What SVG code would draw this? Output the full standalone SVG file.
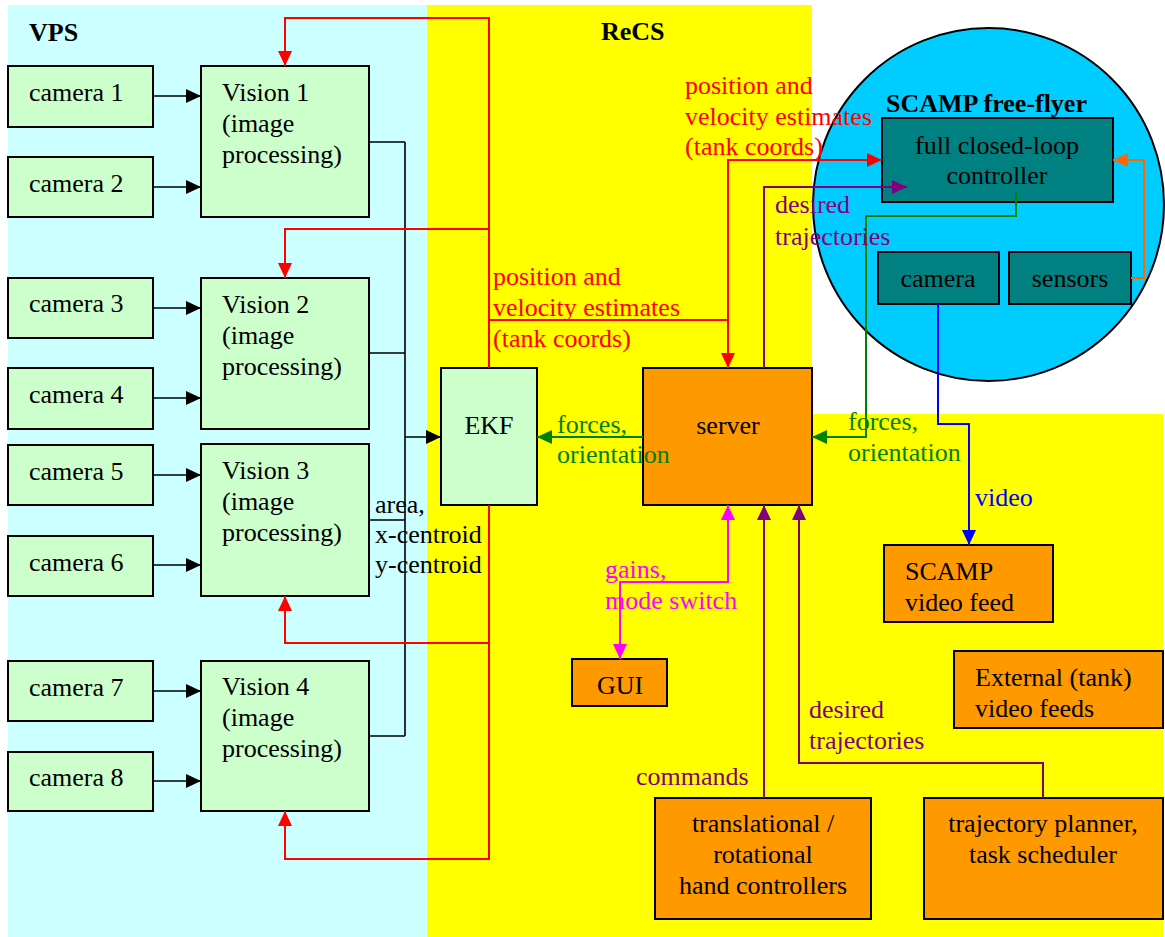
<svg xmlns="http://www.w3.org/2000/svg" width="1165" height="937" viewBox="0 0 1165 937">
<style>
text{font-family:"Liberation Serif","Times New Roman",serif;font-size:26px;fill:#000}
.b{font-weight:bold}
.m{text-anchor:middle}
.g{fill:#CCFFCC;stroke:#000;stroke-width:2}
.o{fill:#FF9900;stroke:#000;stroke-width:2}
.t{fill:#008080;stroke:#000;stroke-width:2}
.k{fill:none;stroke:#000;stroke-width:1.6}
.r{fill:none;stroke:#FF0000;stroke-width:2}
.gr{fill:none;stroke:#008000;stroke-width:2}
.p{fill:none;stroke:#800080;stroke-width:2}
.mg{fill:none;stroke:#FF00FF;stroke-width:2}
.bl{fill:none;stroke:#0000FF;stroke-width:2}
.or{fill:none;stroke:#FF6600;stroke-width:2}
.tr{fill:#FF0000}.tg{fill:#008000}.tp{fill:#800080}.tm{fill:#FF00FF}.tb{fill:#0000FF}
</style>
<defs>
<marker id="ak" markerUnits="userSpaceOnUse" markerWidth="15" markerHeight="14" refX="15" refY="7" orient="auto"><path d="M0,0L15,7L0,14z" fill="#000"/></marker>
<marker id="ar" markerUnits="userSpaceOnUse" markerWidth="15" markerHeight="14" refX="15" refY="7" orient="auto"><path d="M0,0L15,7L0,14z" fill="#FF0000"/></marker>
<marker id="ag" markerUnits="userSpaceOnUse" markerWidth="15" markerHeight="14" refX="15" refY="7" orient="auto"><path d="M0,0L15,7L0,14z" fill="#008000"/></marker>
<marker id="ap" markerUnits="userSpaceOnUse" markerWidth="15" markerHeight="14" refX="15" refY="7" orient="auto"><path d="M0,0L15,7L0,14z" fill="#800080"/></marker>
<marker id="am" markerUnits="userSpaceOnUse" markerWidth="15" markerHeight="14" refX="15" refY="7" orient="auto-start-reverse"><path d="M0,0L15,7L0,14z" fill="#FF00FF"/></marker>
<marker id="ab" markerUnits="userSpaceOnUse" markerWidth="15" markerHeight="14" refX="15" refY="7" orient="auto"><path d="M0,0L15,7L0,14z" fill="#0000FF"/></marker>
<marker id="ao" markerUnits="userSpaceOnUse" markerWidth="15" markerHeight="14" refX="15" refY="7" orient="auto"><path d="M0,0L15,7L0,14z" fill="#FF6600"/></marker>
</defs>
<rect width="1165" height="937" fill="#fff"/>
<g id="regions">
<rect x="8" y="5" width="419" height="932" fill="#CCFFFF"/>
<rect x="427" y="5" width="385" height="410" fill="#FFFF00"/>
<rect x="427" y="414" width="736" height="523" fill="#FFFF00"/>
<text class="b" x="29" y="41">VPS</text>
<text class="b" x="601" y="40">ReCS</text>
</g>
<g id="freeflyer">
<ellipse cx="988.5" cy="204.5" rx="175.5" ry="176.5" fill="#00CCFF" stroke="#000" stroke-width="2"/>
<text class="b" x="886" y="112">SCAMP free-flyer</text>
</g>
<g id="camera1"><rect class="g" x="8" y="66" width="145" height="61"/><text x="29" y="101">camera 1</text></g>
<g id="camera2"><rect class="g" x="8" y="157" width="145" height="60"/><text x="29" y="192">camera 2</text></g>
<g id="camera3"><rect class="g" x="8" y="278" width="145" height="60"/><text x="29" y="312">camera 3</text></g>
<g id="camera4"><rect class="g" x="8" y="368" width="145" height="61"/><text x="29" y="403">camera 4</text></g>
<g id="camera5"><rect class="g" x="8" y="445" width="145" height="60"/><text x="29" y="480">camera 5</text></g>
<g id="camera6"><rect class="g" x="8" y="536" width="145" height="60"/><text x="29" y="571">camera 6</text></g>
<g id="camera7"><rect class="g" x="8" y="661" width="145" height="60"/><text x="29" y="696">camera 7</text></g>
<g id="camera8"><rect class="g" x="8" y="752" width="145" height="59"/><text x="29" y="786">camera 8</text></g>
<g id="vision1"><rect class="g" x="201" y="66" width="168" height="151"/><text x="222" y="101">Vision 1</text><text x="222" y="132">(image</text><text x="222" y="163">processing)</text></g>
<g id="vision2"><rect class="g" x="201" y="278" width="168" height="151"/><text x="222" y="313">Vision 2</text><text x="222" y="344">(image</text><text x="222" y="375">processing)</text></g>
<g id="vision3"><rect class="g" x="201" y="444" width="168" height="152"/><text x="222" y="479">Vision 3</text><text x="222" y="510">(image</text><text x="222" y="541">processing)</text></g>
<g id="vision4"><rect class="g" x="201" y="661" width="168" height="150"/><text x="222" y="695">Vision 4</text><text x="222" y="726">(image</text><text x="222" y="757">processing)</text></g>
<g id="ekf"><rect class="g" x="441" y="368" width="96" height="137"/><text class="m" x="489" y="434">EKF</text></g>
<g id="server"><rect class="o" x="643" y="368" width="169" height="137"/><text class="m" x="728" y="434">server</text></g>
<g id="controller"><rect class="t" x="882" y="118" width="231" height="84"/><text class="m" x="997" y="154">full closed-loop</text><text class="m" x="997" y="184">controller</text></g>
<g id="camera"><rect class="t" x="878" y="252" width="121" height="52"/><text class="m" x="938" y="287">camera</text></g>
<g id="sensors"><rect class="t" x="1009" y="252" width="122" height="52"/><text class="m" x="1070" y="287">sensors</text></g>
<g id="gui"><rect class="o" x="572" y="659" width="95" height="47"/><text class="m" x="620" y="694">GUI</text></g>
<g id="scampfeed"><rect class="o" x="884" y="545" width="169" height="77"/><text x="905" y="580">SCAMP</text><text x="905" y="611">video feed</text></g>
<g id="extfeed"><rect class="o" x="954" y="651" width="209" height="77"/><text x="975" y="686">External (tank)</text><text x="975" y="717">video feeds</text></g>
<g id="hand"><rect class="o" x="655" y="798" width="216" height="121"/><text class="m" x="763" y="832">translational /</text><text class="m" x="763" y="863">rotational</text><text class="m" x="763" y="894">hand controllers</text></g>
<g id="planner"><rect class="o" x="924" y="798" width="239" height="121"/><text class="m" x="1043" y="832">trajectory planner,</text><text class="m" x="1043" y="863">task scheduler</text></g>
<g id="connectors">
<path class="k" marker-end="url(#ak)" d="M153,96H201"/>
<path class="k" marker-end="url(#ak)" d="M153,187H201"/>
<path class="k" marker-end="url(#ak)" d="M153,308H201"/>
<path class="k" marker-end="url(#ak)" d="M153,398H201"/>
<path class="k" marker-end="url(#ak)" d="M153,475H201"/>
<path class="k" marker-end="url(#ak)" d="M153,565H201"/>
<path class="k" marker-end="url(#ak)" d="M153,691H201"/>
<path class="k" marker-end="url(#ak)" d="M153,781H201"/>
<path class="k" d="M369,142H405M369,353H405M369,520H405M369,736H405M405,142V736"/>
<path class="k" stroke-width="2.5" marker-end="url(#ak)" d="M405,437H441"/>
<path class="r" marker-end="url(#ar)" d="M489,368V18H285V66"/>
<path class="r" marker-end="url(#ar)" d="M489,229H285V278"/>
<path class="r" marker-end="url(#ar)" d="M489,505V859H285V811"/>
<path class="r" marker-end="url(#ar)" d="M489,643H285V596"/>
<path class="r" marker-end="url(#ar)" d="M489,320H728V368"/>
<path class="r" marker-end="url(#ar)" d="M728,320V160H882"/>
<path class="gr" marker-end="url(#ag)" d="M643,437H537"/>
<path class="gr" marker-end="url(#ag)" d="M1016,193V216H866V437H812"/>
<path class="p" marker-end="url(#ap)" d="M764,368V187H907"/>
<path class="p" marker-end="url(#ap)" d="M764,798V505"/>
<path class="p" marker-end="url(#ap)" d="M1043,798V763H799V505"/>
<path class="mg" marker-start="url(#am)" marker-end="url(#am)" d="M620,659V582H728V505"/>
<path class="bl" marker-end="url(#ab)" d="M938,304V424H969V545"/>
<path class="or" marker-end="url(#ao)" d="M1131,278H1144V160H1113"/>
</g>
<g id="labels">
<text class="tr" x="685" y="94">position and</text>
<text class="tr" x="685" y="125">velocity estimates</text>
<text class="tr" x="685" y="155">(tank coords)</text>
<text class="tr" x="493" y="285">position and</text>
<text class="tr" x="493" y="316">velocity estimates</text>
<text class="tr" x="493" y="347">(tank coords)</text>
<text class="tp" x="775" y="213">desired</text>
<text class="tp" x="775" y="245">trajectories</text>
<text class="tg" x="557" y="433">forces,</text>
<text class="tg" x="557" y="463">orientation</text>
<text class="tg" x="848" y="430">forces,</text>
<text class="tg" x="848" y="461">orientation</text>
<text x="375" y="513">area,</text>
<text x="375" y="543">x-centroid</text>
<text x="375" y="573">y-centroid</text>
<text class="tm" x="605" y="578">gains,</text>
<text class="tm" x="605" y="609">mode switch</text>
<text class="tb" x="975" y="506">video</text>
<text class="tp" x="809" y="718">desired</text>
<text class="tp" x="809" y="749">trajectories</text>
<text class="tp" x="636" y="785">commands</text>
</g>
</svg>
